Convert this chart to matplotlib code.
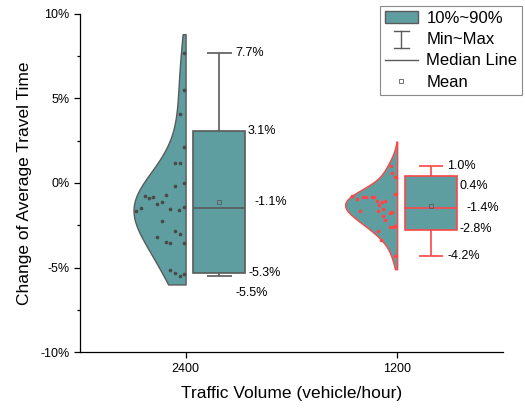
# -----------------------------
#   IMPORTS
# -----------------------------
import numpy as np
import matplotlib
matplotlib.use("Agg")
import matplotlib.pyplot as plt
from matplotlib.patches import Patch
from matplotlib.lines import Line2D
from matplotlib.legend_handler import HandlerBase

# -----------------------------
#   DATA
# -----------------------------
groups = ["2400", "1200"]
positions = [1, 2]

# box statistics (percent)
whisker_max = [7.7, 1.0]
box_hi = [3.1, 0.4]
median = [-1.45, -1.5]
mean = [-1.15, -1.38]
box_lo = [-5.3, -2.8]
whisker_min = [-5.5, -4.3]

# value labels beside each box
label_max = ["7.7%", "1.0%"]
label_hi = ["3.1%", "0.4%"]
label_mean = ["-1.1%", "-1.4%"]
label_lo = ["-5.3%", "-2.8%"]
label_min = ["-5.5%", "-4.2%"]

# raw samples (percent) and their horizontal scatter offsets
points_2400 = [7.67, 5.50, 4.06, 2.11, 1.17, 1.20, 0.02, -0.16, -0.77, -0.87,
               -0.81, -0.71, -1.24, -1.12, -1.64, -1.48, -1.54, -1.60, -1.44, -2.23,
               -2.82, -3.04, -3.55, -3.21, -3.47, -3.55, -5.17, -5.35, -5.52, -5.40]
jitter_2400 = [-0.008, -0.008, -0.028, -0.009, -0.051, -0.028, -0.009, -0.051, -0.194, -0.174,
               -0.153, -0.093, -0.133, -0.112, -0.236, -0.213, -0.073, -0.032, -0.009, -0.112,
               -0.051, -0.028, -0.009, -0.133, -0.091, -0.073, -0.073, -0.051, -0.028, -0.009]
points_1200 = [1.02, 0.62, 0.38, -0.66, -0.78, -0.93, -0.85, -0.81, -0.85, -0.85,
               -1.05, -1.10, -1.07, -1.30, -1.56, -1.76, -1.73, -1.68, -1.64, -1.95,
               -2.20, -2.62, -2.58, -2.54, -2.84, -3.40, -4.30]
jitter_1200 = [-0.031, -0.025, -0.012, -0.012, -0.213, -0.192, -0.161, -0.149, -0.120, -0.109,
               -0.096, -0.073, -0.057, -0.084, -0.065, -0.036, -0.025, -0.175, -0.089, -0.065,
               -0.057, -0.033, -0.020, -0.012, -0.092, -0.078, -0.012]

# violin extent (percent) and kernel bandwidth
violin_lo = [-6.0, -5.1]
violin_hi = [8.8, 2.45]
bandwidth = [1.75, 0.75]

# -----------------------------
#   STYLE
# -----------------------------
plt.rcParams["font.family"] = ["Liberation Sans", "DejaVu Sans"]
TEAL = "#5F9EA0"
GRAY = "#5a5a5a"
RED = "#FF4545"
edge_colors = [GRAY, RED]
dot_colors = ["#4a4a4a", RED]

VIOLIN_W = 0.246
BOX_W = 0.246
BOX_OFF = 0.16
CAP_W = 0.118


class HandlerMinMax(HandlerBase):
    # Draw an I-shaped whisker symbol for the legend
    def create_artists(self, legend, orig_handle, xdescent, ydescent, width, height, fontsize, trans):
        cx = width / 2 - xdescent
        top = height * 1.15 - ydescent
        bot = -height * 0.35 - ydescent
        cw = width * 0.22
        arts = [Line2D([cx, cx], [bot, top]),
                Line2D([cx - cw, cx + cw], [top, top]),
                Line2D([cx - cw, cx + cw], [bot, bot])]
        for a in arts:
            a.set_color(GRAY)
            a.set_linewidth(1.0)
            a.set_transform(trans)
        return arts


def kde(vals, grid, bw):
    # Gaussian kernel density, scaled so its peak is 1
    vals = np.asarray(vals)
    d = np.exp(-0.5 * ((grid[:, None] - vals[None, :]) / bw) ** 2).sum(axis=1)
    return d / d.max()


# -----------------------------
#   PLOT
# -----------------------------
fig = plt.figure(figsize=(5.25, 4.08), dpi=100)
ax = fig.add_axes([0.152, 0.137, 0.806, 0.829])

all_points = [points_2400, points_1200]
all_jitter = [jitter_2400, jitter_1200]

for i, x in enumerate(positions):
    ec = edge_colors[i]
    # half violin on the left of the tick
    grid = np.linspace(violin_lo[i], violin_hi[i], 300)
    dens = kde(all_points[i], grid, bandwidth[i])
    ax.fill_betweenx(grid, x - VIOLIN_W * dens, x, facecolor=TEAL, edgecolor=ec, linewidth=1.0, zorder=2)
    # raw points
    ax.scatter(x + np.asarray(all_jitter[i]), all_points[i], s=7, color=dot_colors[i], zorder=3, linewidths=0)
    # box on the right of the tick
    bx = x + BOX_OFF
    ax.bar(bx, box_hi[i] - box_lo[i], bottom=box_lo[i], width=BOX_W, color=TEAL, edgecolor=ec, linewidth=1.2, zorder=2)
    ax.vlines(bx, box_hi[i], whisker_max[i], color=ec, linewidth=1.2, zorder=1)
    ax.vlines(bx, whisker_min[i], box_lo[i], color=ec, linewidth=1.2, zorder=1)
    ax.hlines([whisker_max[i], whisker_min[i]], bx - CAP_W / 2, bx + CAP_W / 2, color=ec, linewidth=1.2)
    ax.hlines(median[i], bx - BOX_W / 2, bx + BOX_W / 2, color=ec, linewidth=1.2, zorder=3)
    ax.plot(bx, mean[i], marker="s", markersize=3, markerfacecolor="none", markeredgecolor=GRAY, markeredgewidth=0.6, zorder=4)
    # value labels
    fs = 9
    ax.text(bx + 0.077, whisker_max[i], label_max[i], fontsize=fs, va="center")
    ax.text(bx + 0.135, box_hi[i] - (0.0 if i == 0 else 0.55), label_hi[i], fontsize=fs, va="center")
    ax.text(bx + 0.168, mean[i] - (0.0 if i == 0 else 0.1), label_mean[i], fontsize=fs, va="center")
    ax.text(bx + 0.135, box_lo[i] + (0.0 if i == 0 else 0.1), label_lo[i], fontsize=fs, va="center")
    ax.text(bx + 0.077, whisker_min[i] - (1.0 if i == 0 else 0.0), label_min[i], fontsize=fs, va="center")

# axes styling
ax.set_xlim(0.5, 2.5)
ax.set_ylim(-10, 10)
ax.set_xticks(positions)
ax.set_xticklabels(groups)
ax.set_yticks([-10, -5, 0, 5, 10])
ax.set_yticklabels(["-10%", "-5%", "0%", "5%", "10%"])
ax.set_yticks([-7.5, -2.5, 2.5, 7.5], minor=True)
ax.tick_params(axis="both", which="major", labelsize=9, direction="out", length=4, width=0.9)
ax.tick_params(axis="y", which="minor", direction="out", length=2.5, width=0.9)
for side in ["top", "right"]:
    ax.spines[side].set_visible(False)
for side in ["left", "bottom"]:
    ax.spines[side].set_linewidth(0.9)
ax.set_xlabel("Traffic Volume (vehicle/hour)", fontsize=12.5, labelpad=8)
ax.set_ylabel("Change of Average Travel Time", fontsize=12.5, labelpad=6)

# legend
handles = [Patch(facecolor=TEAL, edgecolor=GRAY, linewidth=1.0),
           Line2D([], []),
           Line2D([], [], color=GRAY, linewidth=1.0),
           Line2D([], [], marker="s", markersize=3, markerfacecolor="none", markeredgecolor=GRAY,
                  markeredgewidth=0.6, linestyle="none")]
labels = ["10%~90%", "Min~Max", "Median Line", "Mean"]
leg = fig.legend(handles, labels, loc="upper right", bbox_to_anchor=(0.995, 0.986), borderaxespad=0,
                 fontsize=12, fancybox=False, edgecolor="#8a8a8a", framealpha=1, handlelength=2.0,
                 handletextpad=0.5, labelspacing=0.38, borderpad=0.3,
                 handler_map={handles[1]: HandlerMinMax()})
leg.get_frame().set_linewidth(0.8)

plt.savefig("out.png", dpi=100)
